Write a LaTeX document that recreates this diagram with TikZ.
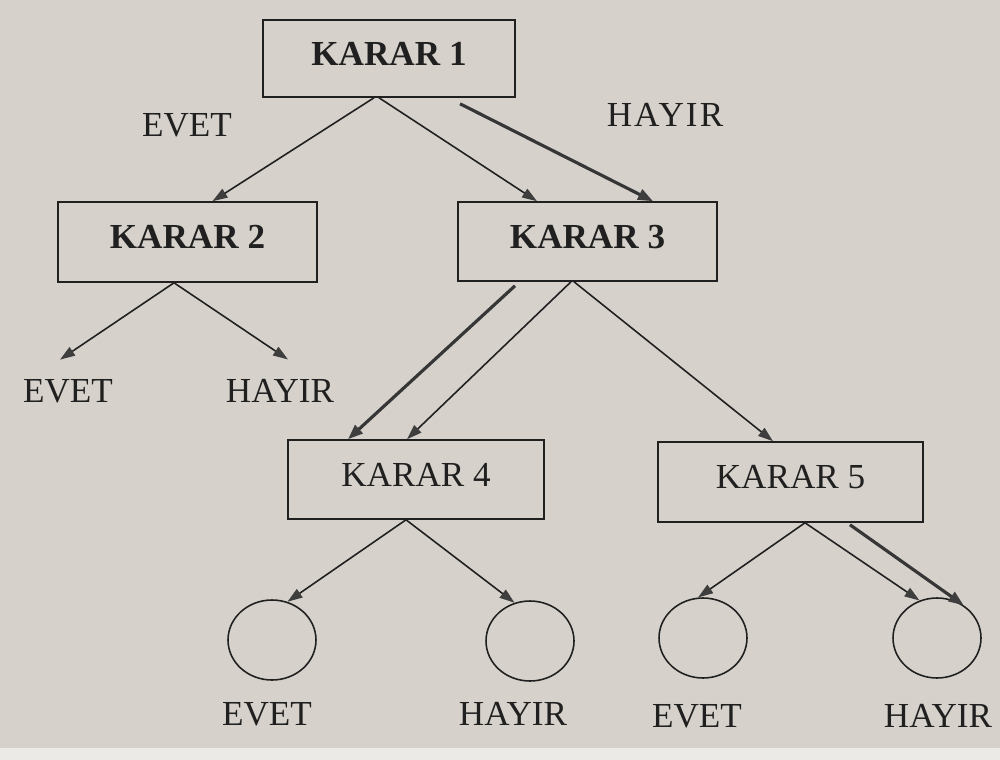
\documentclass[tikz,border=0pt]{standalone}
\usepackage{fontspec}
\setmainfont{Liberation Serif}
\usetikzlibrary{arrows.meta,shapes.geometric}
\definecolor{paper}{RGB}{214,210,203}
\definecolor{paperedge}{RGB}{236,234,230}
\definecolor{ink}{RGB}{32,32,32}
\definecolor{tipgray}{RGB}{62,62,62}

\begin{document}
\begin{tikzpicture}[x=0.02cm,y=-0.02cm,
  kbox/.style={draw=ink,line width=0.9pt,rectangle,inner sep=0pt,
    text depth=0.2cm,font=\fontsize{20}{24}\selectfont,text=ink},
  leaf/.style={draw=ink,line width=0.9pt,ellipse,inner sep=0pt,
    minimum width=1.76cm,minimum height=1.6cm},
  lbl/.style={inner sep=0pt,anchor=base,font=\fontsize{20}{24}\selectfont,text=ink},
  arr/.style={draw=ink,line width=0.9pt,
    -{Triangle[length=0.3cm,width=0.2cm,color=tipgray]}},
  arrbold/.style={draw=ink!90,line width=1.8pt,
    -{Triangle[length=0.3cm,width=0.22cm,color=tipgray]}}
]
% paper
\useasboundingbox (0,0) rectangle (1000,760);
\fill[paper] (0,0) rectangle (1000,760);
\fill[paperedge] (0,748) rectangle (1000,760);

% decision boxes
\node[kbox,minimum width=5.04cm,minimum height=1.54cm] (k1) at (389,58.5) {\bfseries KARAR 1};
\node[kbox,minimum width=5.18cm,minimum height=1.6cm] (k2) at (187.5,242) {\bfseries KARAR 2};
\node[kbox,minimum width=5.18cm,minimum height=1.58cm] (k3) at (587.5,241.5) {\bfseries KARAR 3};
\node[kbox,minimum width=5.12cm,minimum height=1.58cm] (k4) at (416,479.5) {KARAR 4};
\node[kbox,minimum width=5.3cm,minimum height=1.6cm] (k5) at (790.5,482) {KARAR 5};

% outcome circles
\node[leaf] (c1) at (272,640) {};
\node[leaf] (c2) at (530,641) {};
\node[leaf] (c3) at (703,638) {};
\node[leaf] (c4) at (937,638) {};

% branch labels
\node[lbl] (ev0) at (187,137) {EVET};
\node[lbl] (hy0) at (665,127) {\addfontfeature{LetterSpace=6}HAYIR};
\node[lbl] (ev2) at (68,402) {EVET};
\node[lbl] (hy2) at (280,402) {HAYIR};
\node[lbl] (ev4) at (267,725) {EVET};
\node[lbl] (hy4) at (513,725) {HAYIR};
\node[lbl] (ev5) at (697,727) {EVET};
\node[lbl] (hy5) at (938,727) {HAYIR};

% branches from KARAR 1
\draw[arr] ([xshift=-0.3cm]k1.south) -- ([xshift=0.5cm]k2.north);
\draw[arr] ([xshift=-0.2cm]k1.south) -- ([xshift=-1.01cm]k3.north);
\draw[arrbold] ([xshift=1.42cm,yshift=-0.12cm]k1.south) -- ([xshift=1.31cm]k3.north);

% branches from KARAR 2
\draw[arr] ([xshift=-0.27cm]k2.south) -- ([xshift=-0.16cm,yshift=0.38cm]ev2.north);
\draw[arr] ([xshift=-0.27cm]k2.south) -- ([xshift=0.16cm,yshift=0.38cm]hy2.north);

% branches from KARAR 3
\draw[arr] ([xshift=-0.33cm]k3.south) -- ([xshift=-0.18cm]k4.north);
\draw[arrbold] ([xshift=-1.45cm,yshift=-0.08cm]k3.south) -- ([xshift=-1.36cm]k4.north);
\draw[arr] ([xshift=-0.27cm]k3.south) -- ([xshift=-0.35cm]k5.north);

% branches from KARAR 4
\draw[arr] ([xshift=-0.2cm]k4.south) -- (c1.68);
\draw[arr] ([xshift=-0.2cm]k4.south) -- (c2.112);

% branches from KARAR 5
\draw[arr] ([xshift=0.29cm]k5.south) -- (c3.97);
\draw[arr] ([xshift=0.29cm]k5.south) -- (c4.115);
\draw[arrbold] ([xshift=1.19cm,yshift=-0.04cm]k5.south) -- (c4.51);
\end{tikzpicture}
\end{document}
